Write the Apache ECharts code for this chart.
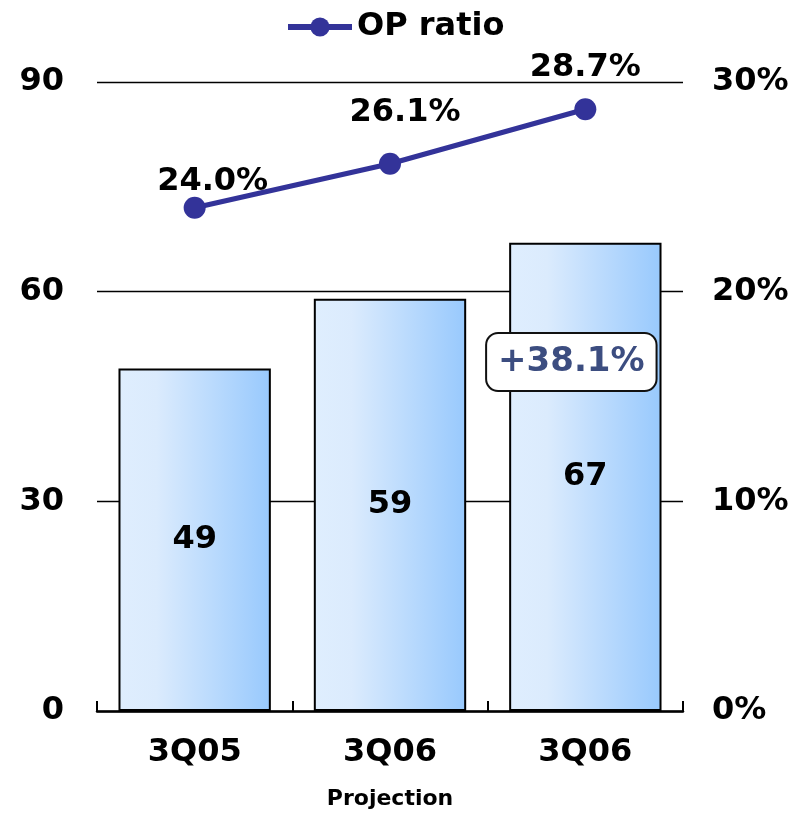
<!DOCTYPE html>
<html>
<head>
<meta charset="utf-8">
<script src="https://cdn.jsdelivr.net/npm/echarts@6/dist/echarts.min.js"></script>
<style>
  html, body { margin: 0; padding: 0; background: #fff; }
  #chart { width: 799px; height: 813px; }
</style>
</head>
<body>
<div id="chart"></div>
<script>
// Quarterly operating profit (bars) and operating-profit ratio (line)
const categories = ['3Q05', '3Q06', '3Q06'];
const operatingProfit = [49, 59, 67];
const opRatio = [24.0, 26.1, 28.7];
const leftTicks = { min: 0, max: 90, interval: 30 };
const rightTicks = { min: 0, max: 30, interval: 10 };
const growthLabel = '+38.1%';
const axisName = 'Projection';
const seriesName = 'OP ratio';

// label nudges for the ratio points (pixels)
const ratioLabelOffsets = [[18, 13], [15, -12], [0, -3]];

const FONT = '"DejaVu Sans", sans-serif';
const chart = echarts.init(document.getElementById('chart'), null, { renderer: 'canvas' });

const barGradient = new echarts.graphic.LinearGradient(0, 0, 1, 0, [
  { offset: 0, color: '#dfeefe' },
  { offset: 0.25, color: '#dbebfd' },
  { offset: 1, color: '#98c9fd' }
]);

chart.setOption({
  animation: false,
  backgroundColor: '#ffffff',
  textStyle: { fontFamily: FONT },
  legend: {
    top: 6,
    left: 280,
    itemWidth: 64,
    itemHeight: 24,
    itemGap: 10,
    data: [seriesName],
    lineStyle: { width: 6 },
    textStyle: { fontFamily: FONT, fontSize: 32, fontWeight: 'bold', color: '#000' }
  },
  grid: { left: 97, right: 116, top: 82, bottom: 102, outerBoundsMode: 'none', containLabel: false },
  xAxis: {
    type: 'category',
    data: categories,
    name: axisName,
    nameLocation: 'middle',
    nameGap: 77,
    nameTextStyle: { fontFamily: FONT, fontSize: 22, fontWeight: 'bold', color: '#000' },
    axisLine: { lineStyle: { color: '#000', width: 2.5 } },
    axisTick: { show: true, inside: true, length: 10, lineStyle: { color: '#000', width: 2 } },
    axisLabel: { margin: 26, fontFamily: FONT, fontSize: 32, fontWeight: 'bold', color: '#000' }
  },
  yAxis: [
    {
      type: 'value',
      min: leftTicks.min, max: leftTicks.max, interval: leftTicks.interval,
      axisLine: { show: false },
      axisTick: { show: false },
      splitLine: { lineStyle: { color: '#000', width: 1.3 } },
      axisLabel: { margin: 33, fontFamily: FONT, fontSize: 32, fontWeight: 'bold', color: '#000' }
    },
    {
      type: 'value',
      min: rightTicks.min, max: rightTicks.max, interval: rightTicks.interval,
      axisLine: { show: false },
      axisTick: { show: false },
      splitLine: { show: false },
      axisLabel: {
        margin: 29, fontFamily: FONT, fontSize: 32, fontWeight: 'bold', color: '#000',
        formatter: v => v + '%'
      }
    }
  ],
  series: [
    {
      name: 'Operating profit',
      type: 'bar',
      yAxisIndex: 0,
      data: operatingProfit,
      barWidth: '78%',
      itemStyle: { color: barGradient, borderColor: '#000', borderWidth: 2 },
      label: {
        show: true, position: 'inside',
        fontFamily: FONT, fontSize: 32, fontWeight: 'bold', color: '#000'
      },
      z: 2
    },
    {
      name: seriesName,
      type: 'line',
      yAxisIndex: 1,
      data: opRatio.map((v, i) => ({
        value: v,
        label: { offset: ratioLabelOffsets[i] }
      })),
      symbol: 'circle',
      symbolSize: 22,
      lineStyle: { color: '#333399', width: 5 },
      itemStyle: { color: '#333399' },
      label: {
        show: true, position: 'top', distance: 12,
        fontFamily: FONT, fontSize: 32, fontWeight: 'bold', color: '#000',
        formatter: p => p.value.toFixed(1) + '%'
      },
      z: 5
    }
  ]
});

// growth call-out box above the last bar
const pos = chart.convertToPixel({ xAxisIndex: 0, yAxisIndex: 0 }, [2, operatingProfit[2]]);
chart.setOption({
  graphic: [{
    type: 'text',
    x: pos[0] - 14,
    y: 362,
    z: 100,
    style: {
      text: growthLabel,
      fontFamily: FONT,
      fontSize: 34,
      fontWeight: 'bold',
      fill: '#3c4d80',
      align: 'center',
      verticalAlign: 'middle',
      backgroundColor: '#ffffff',
      borderColor: '#111111',
      borderWidth: 2,
      borderRadius: 11,
      padding: [11, 11, 11, 11]
    }
  }]
});
</script>
</body>
</html>
